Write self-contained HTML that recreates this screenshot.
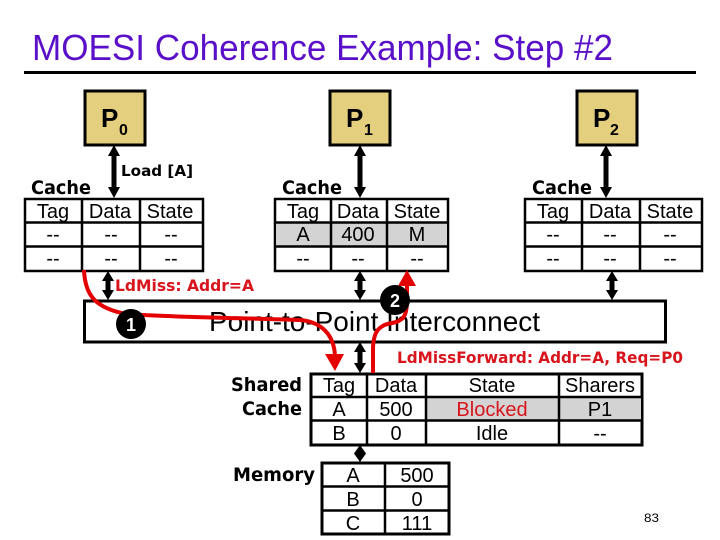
<!DOCTYPE html>
<html><head><meta charset="utf-8"><style>
html,body{margin:0;padding:0;background:#fff}
svg{display:block}
text{font-family:"Liberation Sans",sans-serif;fill:#000}
.c{font-size:20px;text-anchor:middle}
.b{font-family:"DejaVu Sans",sans-serif;font-weight:bold}
.p{font-family:"Liberation Sans",sans-serif;font-weight:bold}
.r{fill:#d8141c}
</style></head><body>
<svg width="720" height="540" viewBox="0 0 720 540" xmlns="http://www.w3.org/2000/svg">
<rect width="720" height="540" fill="#fff"/>
<text x="32" y="60" font-size="36" style="fill:#5a10c8" textLength="581" lengthAdjust="spacingAndGlyphs">MOESI Coherence Example: Step #2</text>
<rect x="24" y="71" width="672" height="3"/>

<!-- P boxes -->
<g fill="#e3cf7e" stroke="#000" stroke-width="3">
<rect x="85" y="91" width="60" height="54"/>
<rect x="330" y="91" width="60" height="54"/>
<rect x="577" y="91" width="60" height="54"/>
</g>
<text x="101" y="127" font-size="26" class="p">P</text>
<text x="119" y="135" font-size="16" class="p">0</text>
<text x="346" y="127" font-size="26" class="p">P</text>
<text x="364" y="135" font-size="16" class="p">1</text>
<text x="593" y="127" font-size="26" class="p">P</text>
<text x="610" y="135" font-size="16" class="p">2</text>

<!-- black double arrows -->
<g fill="#000" stroke="none">
<path d="M114 145l6 11h-3.500v31h3.500l-6 11l-6-11h3.500v-31h-3.500z"/>
<path d="M360 145l6 11h-3.500v31h3.500l-6 11l-6-11h3.500v-31h-3.500z"/>
<path d="M606 145l6 11h-3.500v31h3.500l-6 11l-6-11h3.500v-31h-3.500z"/>
<path d="M108 271l6 10h-3.500v9h3.500l-6 10l-6-10h3.500v-9h-3.500z"/>
<path d="M360 271l6 10h-3.500v9h3.500l-6 10l-6-10h3.500v-9h-3.500z"/>
<path d="M612 271l6 10h-3.500v9h3.500l-6 10l-6-10h3.500v-9h-3.500z"/>
<path d="M360 342l6 10h-3.500v11h3.500l-6 10l-6-10h3.500v-11h-3.500z"/>
<path d="M360 445l6 8.500l-6 8.500l-6-8.500z"/>
</g>

<!-- Labels -->
<text x="121" y="176" font-size="15" class="b" textLength="72" lengthAdjust="spacingAndGlyphs">Load [A]</text>
<text x="31" y="194" font-size="19" class="b" textLength="60" lengthAdjust="spacingAndGlyphs">Cache</text>
<text x="282" y="194" font-size="19" class="b" textLength="60" lengthAdjust="spacingAndGlyphs">Cache</text>
<text x="532" y="194" font-size="19" class="b" textLength="60" lengthAdjust="spacingAndGlyphs">Cache</text>
<text x="231" y="391" font-size="19" class="b" textLength="71" lengthAdjust="spacingAndGlyphs">Shared</text>
<text x="242" y="415" font-size="19" class="b" textLength="60" lengthAdjust="spacingAndGlyphs">Cache</text>
<text x="233" y="481" font-size="19" class="b" textLength="82" lengthAdjust="spacingAndGlyphs">Memory</text>

<!-- Cache 0 -->
<rect x="25" y="199" width="178" height="72" fill="#fff" stroke="#000" stroke-width="2.500"/>
<path d="M25 222.500H203M25 246.500H203M82 199V271M140 199V271" stroke="#000" stroke-width="2.500" fill="none"/>
<g class="c">
<text x="53" y="218">Tag</text><text x="110" y="218">Data</text><text x="170" y="218">State</text>
<text x="53" y="241">--</text><text x="111" y="241">--</text><text x="171" y="241">--</text>
<text x="53" y="265">--</text><text x="111" y="265">--</text><text x="171" y="265">--</text>
</g>
<!-- Cache 1 -->
<rect x="275" y="199" width="173" height="72" fill="#fff" stroke="#000" stroke-width="2.500"/>
<rect x="276" y="223" width="171" height="23" fill="#d3d3d3"/>
<path d="M275 222.500H448M275 246.500H448M331 199V271M387 199V271" stroke="#000" stroke-width="2.500" fill="none"/>
<g class="c">
<text x="303" y="218">Tag</text><text x="358" y="218">Data</text><text x="417" y="218">State</text>
<text x="303" y="241">A</text><text x="358" y="241">400</text><text x="417" y="241">M</text>
<text x="303" y="265">--</text><text x="358" y="265">--</text><text x="417" y="265">--</text>
</g>
<!-- Cache 2 -->
<rect x="525" y="199" width="177" height="72" fill="#fff" stroke="#000" stroke-width="2.500"/>
<path d="M525 222.500H702M525 246.500H702M582 199V271M640 199V271" stroke="#000" stroke-width="2.500" fill="none"/>
<g class="c">
<text x="553" y="218">Tag</text><text x="610" y="218">Data</text><text x="670" y="218">State</text>
<text x="553" y="241">--</text><text x="610" y="241">--</text><text x="670" y="241">--</text>
<text x="553" y="265">--</text><text x="610" y="265">--</text><text x="670" y="265">--</text>
</g>

<!-- Interconnect -->
<rect x="84.500" y="301" width="581" height="41" fill="#fff" stroke="#000" stroke-width="3"/>
<text x="209" y="331" font-size="28" textLength="331" lengthAdjust="spacingAndGlyphs">Point-to-Point Interconnect</text>

<!-- Shared cache -->
<rect x="311" y="374" width="331" height="71" fill="#fff" stroke="#000" stroke-width="3"/>
<rect x="427" y="398" width="214" height="22" fill="#d3d3d3"/>
<path d="M311 397H642M311 420.500H642M367 374V445M426 374V445M559 374V445" stroke="#000" stroke-width="2.500" fill="none"/>
<g class="c">
<text x="339" y="392">Tag</text><text x="396" y="392">Data</text><text x="492" y="392">State</text><text x="600" y="392">Sharers</text>
<text x="339" y="416">A</text><text x="396" y="416">500</text><text x="492" y="416" class="r">Blocked</text><text x="600" y="416">P1</text>
<text x="339" y="440">B</text><text x="396" y="440">0</text><text x="492" y="440">Idle</text><text x="600" y="440">--</text>
</g>

<!-- Memory -->
<rect x="322" y="463" width="127" height="71" fill="#fff" stroke="#000" stroke-width="3"/>
<path d="M322 486.500H449M322 510.500H449M385 463V534" stroke="#000" stroke-width="2.500" fill="none"/>
<g class="c">
<text x="353" y="482">A</text><text x="417" y="482">500</text>
<text x="353" y="506">B</text><text x="417" y="506">0</text>
<text x="353" y="530">C</text><text x="417" y="530">111</text>
</g>

<text x="644" y="522" font-size="12" textLength="15" lengthAdjust="spacingAndGlyphs">83</text>

<!-- red paths -->
<path d="M84 270C85 296 96 308 126 314C170 317 240 318 300 320C322 322 334 335 335 356" fill="none" stroke="#e40000" stroke-width="4"/>
<path d="M335 371L325 354H344Z" fill="#e40000"/>
<path d="M373 373V350C373 330 380 325 392 323C404 321 407 315 407 300V285" fill="none" stroke="#e40000" stroke-width="4"/>
<path d="M407 270L398 286H416Z" fill="#e40000"/>

<!-- circles -->
<circle cx="131" cy="324" r="15" fill="#000"/>
<text x="131" y="331" font-size="18" text-anchor="middle" class="p" style="fill:#fff">1</text>
<circle cx="395" cy="300" r="15" fill="#000"/>
<text x="395" y="307" font-size="18" text-anchor="middle" class="p" style="fill:#fff">2</text>

<!-- red labels -->
<text x="115" y="291" font-size="16" class="b r" textLength="139" lengthAdjust="spacingAndGlyphs">LdMiss: Addr=A</text>
<text x="397" y="363" font-size="16" class="b r" textLength="286" lengthAdjust="spacingAndGlyphs">LdMissForward: Addr=A, Req=P0</text>
</svg>
</body></html>
